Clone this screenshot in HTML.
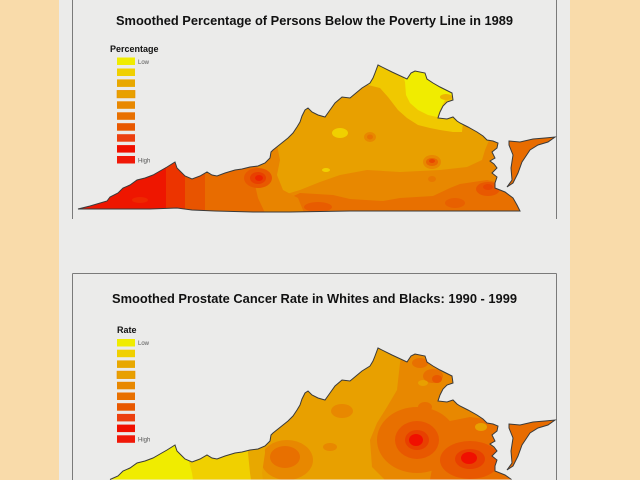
<!DOCTYPE html>
<html><head><meta charset="utf-8"><style>
html,body{margin:0;padding:0;background:#F9DBAA;width:640px;height:480px;overflow:hidden;}
svg{display:block;}
</style></head><body>
<svg width="640" height="480" viewBox="0 0 640 480" xmlns="http://www.w3.org/2000/svg">
<defs>
<path id="va" d="M78,209 L90,206 L107,201 L110,197 L118,193 L123,188 L130,185 L137,180 L145,178 L153,175 L160,171 L167,167 L175,162 L177,168 L181,172 L185,176 L192,179 L200,176 L207,172 L212,175 L217,176 L225,173 L235,170 L242,169 L250,167 L258,166 L265,163 L270,158 L271,152 L273,150 L278,146 L283,142 L288,138 L293,133 L297,127 L300,122 L302,116 L305,110 L308,108 L312,112 L318,115 L325,117 L330,110 L335,103 L342,97 L350,98 L356,93 L362,88 L370,83 L373,78 L375,73 L378,65 L392,72 L407,79 L411,73 L415,71 L425,73 L427,79 L433,83 L440,87 L446,90 L452,93 L453,100 L447,102 L443,106 L440,112 L438,118 L447,119 L453,117 L457,121 L460,123 L468,127 L477,132 L483,136 L487,140 L493,141 L498,143 L497,148 L492,152 L495,158 L490,161 L494,164 L497,168 L492,173 L497,177 L495,183 L495,188 L505,192 L513,198 L517,205 L520,211 L480,211 L420,211 L350,211 L290,212 L253,212 L215,211 L192,210 L177,208 L150,209 L110,209 Z M509,141 L520,142 L533,139 L545,138 L555,137 L548,142 L538,145 L530,150 L526,156 L522,162 L518,173 L513,183 L507,187 L512,180 L511,168 L513,155 L509,145 Z"/>
<path id="va2" d="M110,196.5 L118,193 L123,188 L130,185 L137,180 L145,178 L153,175 L160,171 L167,167 L175,162 L177,168 L181,172 L185,176 L192,179 L200,176 L207,172 L212,175 L217,176 L225,173 L235,170 L242,169 L250,167 L258,166 L265,163 L270,158 L271,152 L273,150 L278,146 L283,142 L288,138 L293,133 L297,127 L300,122 L302,116 L305,110 L308,108 L312,112 L318,115 L325,117 L330,110 L335,103 L342,97 L350,98 L356,93 L362,88 L370,83 L373,78 L375,73 L378,65 L392,72 L407,79 L411,73 L415,71 L425,73 L427,79 L433,83 L440,87 L446,90 L452,93 L453,100 L447,102 L443,106 L440,112 L438,118 L447,119 L453,117 L457,121 L460,123 L468,127 L477,132 L483,136 L487,140 L493,141 L498,143 L497,148 L492,152 L495,158 L490,161 L494,164 L497,168 L492,173 L497,177 L495,183 L495,188 L505,192 L511.5,196.5 Z M509,141 L520,142 L533,139 L545,138 L555,137 L548,142 L538,145 L530,150 L526,156 L522,162 L518,173 L513,183 L507,187 L512,180 L511,168 L513,155 L509,145 Z"/>
<path id="va2o" d="M110,196.5 L118,193 L123,188 L130,185 L137,180 L145,178 L153,175 L160,171 L167,167 L175,162 L177,168 L181,172 L185,176 L192,179 L200,176 L207,172 L212,175 L217,176 L225,173 L235,170 L242,169 L250,167 L258,166 L265,163 L270,158 L271,152 L273,150 L278,146 L283,142 L288,138 L293,133 L297,127 L300,122 L302,116 L305,110 L308,108 L312,112 L318,115 L325,117 L330,110 L335,103 L342,97 L350,98 L356,93 L362,88 L370,83 L373,78 L375,73 L378,65 L392,72 L407,79 L411,73 L415,71 L425,73 L427,79 L433,83 L440,87 L446,90 L452,93 L453,100 L447,102 L443,106 L440,112 L438,118 L447,119 L453,117 L457,121 L460,123 L468,127 L477,132 L483,136 L487,140 L493,141 L498,143 L497,148 L492,152 L495,158 L490,161 L494,164 L497,168 L492,173 L497,177 L495,183 L495,188 L505,192 L511.5,196.5 M509,141 L520,142 L533,139 L545,138 L555,137 L548,142 L538,145 L530,150 L526,156 L522,162 L518,173 L513,183 L507,187 L512,180 L511,168 L513,155 L509,145 Z"/>
<clipPath id="clip"><use href="#va"/></clipPath>
<clipPath id="clip2"><use href="#va2"/></clipPath>
</defs>

<rect x="59" y="0" width="511" height="480" fill="#EBEBEA"/>

<!-- frames -->
<line x1="72.5" y1="0" x2="72.5" y2="219" stroke="#7a7a7a" stroke-width="1"/>
<line x1="556.5" y1="0" x2="556.5" y2="219" stroke="#7a7a7a" stroke-width="1"/>
<line x1="72.5" y1="273.5" x2="556.5" y2="273.5" stroke="#7a7a7a" stroke-width="1"/>
<line x1="72.5" y1="273.5" x2="72.5" y2="480" stroke="#7a7a7a" stroke-width="1"/>
<line x1="556.5" y1="273.5" x2="556.5" y2="480" stroke="#7a7a7a" stroke-width="1"/>

<!-- titles -->
<text x="314.5" y="25" text-anchor="middle" font-family="Liberation Sans, Arial, sans-serif" font-weight="bold" font-size="12.8" fill="#111" textLength="397" lengthAdjust="spacingAndGlyphs">Smoothed Percentage of Persons Below the Poverty Line in 1989</text>
<text x="314.5" y="303" text-anchor="middle" font-family="Liberation Sans, Arial, sans-serif" font-weight="bold" font-size="12.8" fill="#111" textLength="405" lengthAdjust="spacingAndGlyphs">Smoothed Prostate Cancer Rate in Whites and Blacks: 1990 - 1999</text>

<!-- legend 1 -->
<g font-family="Liberation Sans, Arial, sans-serif">
<text x="110" y="52" font-size="9" font-weight="bold" fill="#111">Percentage</text>
<rect x="117" y="57.5" width="18" height="7.5" fill="#F0EC00"/>
<rect x="117" y="68.5" width="18" height="7.5" fill="#F0D000"/>
<rect x="117" y="79.4" width="18" height="7.5" fill="#E8A800"/>
<rect x="117" y="90.4" width="18" height="7.5" fill="#E8A000" stroke="#E89000" stroke-width="0.6"/>
<rect x="117" y="101.3" width="18" height="7.5" fill="#E88800"/>
<rect x="117" y="112.3" width="18" height="7.5" fill="#E87000"/>
<rect x="117" y="123.2" width="18" height="7.5" fill="#E85800"/>
<rect x="117" y="134.2" width="18" height="7.5" fill="#EC4010"/>
<rect x="117" y="145.1" width="18" height="7.5" fill="#F01000"/>
<rect x="117" y="156" width="18" height="7.5" fill="#F01808"/>
<text x="138" y="63.8" font-size="6" fill="#555">Low</text>
<text x="138" y="162.3" font-size="6" fill="#555">High</text>
</g>

<!-- legend 2 -->
<g font-family="Liberation Sans, Arial, sans-serif">
<text x="117" y="333" font-size="9" font-weight="bold" fill="#111">Rate</text>
<rect x="117" y="339" width="18" height="7.5" fill="#F0EC00"/>
<rect x="117" y="349.7" width="18" height="7.5" fill="#F0D000"/>
<rect x="117" y="360.4" width="18" height="7.5" fill="#E8A800"/>
<rect x="117" y="371.1" width="18" height="7.5" fill="#E8A000" stroke="#E89000" stroke-width="0.6"/>
<rect x="117" y="381.8" width="18" height="7.5" fill="#E88800"/>
<rect x="117" y="392.5" width="18" height="7.5" fill="#E87000"/>
<rect x="117" y="403.2" width="18" height="7.5" fill="#E85800"/>
<rect x="117" y="413.9" width="18" height="7.5" fill="#EC4010"/>
<rect x="117" y="424.6" width="18" height="7.5" fill="#F01000"/>
<rect x="117" y="435.3" width="18" height="7.5" fill="#F01808"/>
<text x="138" y="345" font-size="6" fill="#555">Low</text>
<text x="138" y="441.5" font-size="6" fill="#555">High</text>
</g>

<!-- map 1 -->
<g clip-path="url(#clip)">
<rect x="60" y="50" width="510" height="170" fill="#E8A000"/>
<polygon points="360,55 368,85 380,88 388,97 398,110 407,118 418,125 430,128 440,130 453,132 462,132 470,55" fill="#F0C800"/>
<polygon points="398,60 405,82 406,95 410,103 418,110 428,115 437,117 440,110 445,100 452,95 462,60" fill="#F0EC00"/>
<ellipse cx="446" cy="97" rx="6" ry="3" fill="#ECB400"/>
<polygon points="266,215 275,198 290,193 300,190 320,182 340,175 367,170 400,172 440,170 467,167 482,160 485,150 490,138 560,138 560,215" fill="#E88800"/>
<polygon points="266,215 285,200 300,193 333,195 350,199 383,201 400,198 433,196 450,188 460,184 487,180 500,183 505,180 560,180 560,215" fill="#E87000"/>
<ellipse cx="318" cy="207" rx="14" ry="5" fill="#E85C00"/>
<ellipse cx="488" cy="189" rx="12" ry="7" fill="#E85800"/>
<ellipse cx="488" cy="187" rx="5" ry="3" fill="#E84800"/>
<ellipse cx="455" cy="203" rx="10" ry="5" fill="#E86000"/>
<rect x="503" y="130" width="60" height="55" fill="#E86C00"/>
<polygon points="60,100 270,100 276,140 280,160 277,175 283,190 298,198 305,215 60,215" fill="#E88400"/>
<polygon points="60,100 264,100 262,150 258,165 255,185 258,198 266,215 60,215" fill="#E86C00"/>
<rect x="60" y="100" width="145" height="115" fill="#E85400"/>
<rect x="60" y="100" width="125" height="115" fill="#EC3400"/>
<rect x="60" y="100" width="106" height="115" fill="#EE1600"/>
<ellipse cx="140" cy="200" rx="8" ry="3" fill="#EE2800"/>
<ellipse cx="258" cy="178" rx="14" ry="10" fill="#E85800"/>
<ellipse cx="258" cy="178" rx="8" ry="6" fill="#E84000"/>
<ellipse cx="259" cy="178" rx="4" ry="3" fill="#EC2400"/>
<ellipse cx="340" cy="133" rx="8" ry="5" fill="#F0D000"/>
<ellipse cx="370" cy="137" rx="6" ry="5" fill="#E88800"/>
<ellipse cx="370" cy="137" rx="3" ry="2.5" fill="#E87400"/>
<ellipse cx="432" cy="162" rx="9" ry="7" fill="#E88800"/>
<ellipse cx="432" cy="162" rx="6" ry="4" fill="#E86800"/>
<ellipse cx="432" cy="161" rx="3" ry="2" fill="#E84800"/>
<ellipse cx="432" cy="179" rx="4" ry="3" fill="#E87800"/>
<ellipse cx="326" cy="170" rx="4" ry="2" fill="#F0D000"/>
</g>
<use href="#va" fill="none" stroke="#3a3a3a" stroke-width="1"/>

<!-- map 2 -->
<g transform="translate(0,283)">
<g clip-path="url(#clip2)">
<rect x="60" y="55" width="510" height="142" fill="#E8A000"/>
<polygon points="405,60 400,80 397,107 387,124 377,140 370,157 372,184 385,197 560,197 560,60" fill="#E88800"/>
<ellipse cx="417" cy="157" rx="40" ry="33" fill="#E87000"/>
<polygon points="440,140 470,134 500,138 560,130 560,197 430,197" fill="#E87000"/>
<ellipse cx="481" cy="144" rx="6" ry="4" fill="#E8A000"/>
<ellipse cx="417" cy="157" rx="22" ry="19" fill="#E85800"/>
<ellipse cx="470" cy="177" rx="30" ry="19" fill="#E85800"/>
<ellipse cx="417" cy="157" rx="12" ry="10" fill="#E84000"/>
<ellipse cx="470" cy="176" rx="15" ry="10" fill="#E84000"/>
<ellipse cx="416" cy="157" rx="7" ry="6" fill="#F01000"/>
<ellipse cx="469" cy="175" rx="8" ry="6" fill="#F01000"/>
<ellipse cx="420" cy="80" rx="8" ry="5" fill="#E87000"/>
<ellipse cx="433" cy="93" rx="10" ry="7" fill="#E87000"/>
<ellipse cx="437" cy="96" rx="5" ry="4" fill="#E85800"/>
<ellipse cx="423" cy="100" rx="5" ry="3" fill="#E8A000"/>
<ellipse cx="425" cy="124" rx="7" ry="5" fill="#E87000"/>
<ellipse cx="342" cy="128" rx="11" ry="7" fill="#E88800"/>
<ellipse cx="330" cy="164" rx="7" ry="4" fill="#E88800"/>
<rect x="503" y="130" width="60" height="60" fill="#E86C00"/>
<ellipse cx="287" cy="177" rx="26" ry="20" fill="#E88800"/>
<ellipse cx="285" cy="174" rx="15" ry="11" fill="#E87000"/>
<polygon points="60,100 262,100 265,170 262,190 263,197 60,197" fill="#E8A800"/>
<polygon points="60,100 248,100 248,170 250,190 251,197 60,197" fill="#F0D000"/>
<polygon points="60,100 188,100 188,175 192,190 193,197 60,197" fill="#F0EC00"/>
</g>
<use href="#va2o" fill="none" stroke="#3a3a3a" stroke-width="1"/>
</g>
</svg>
</body></html>
